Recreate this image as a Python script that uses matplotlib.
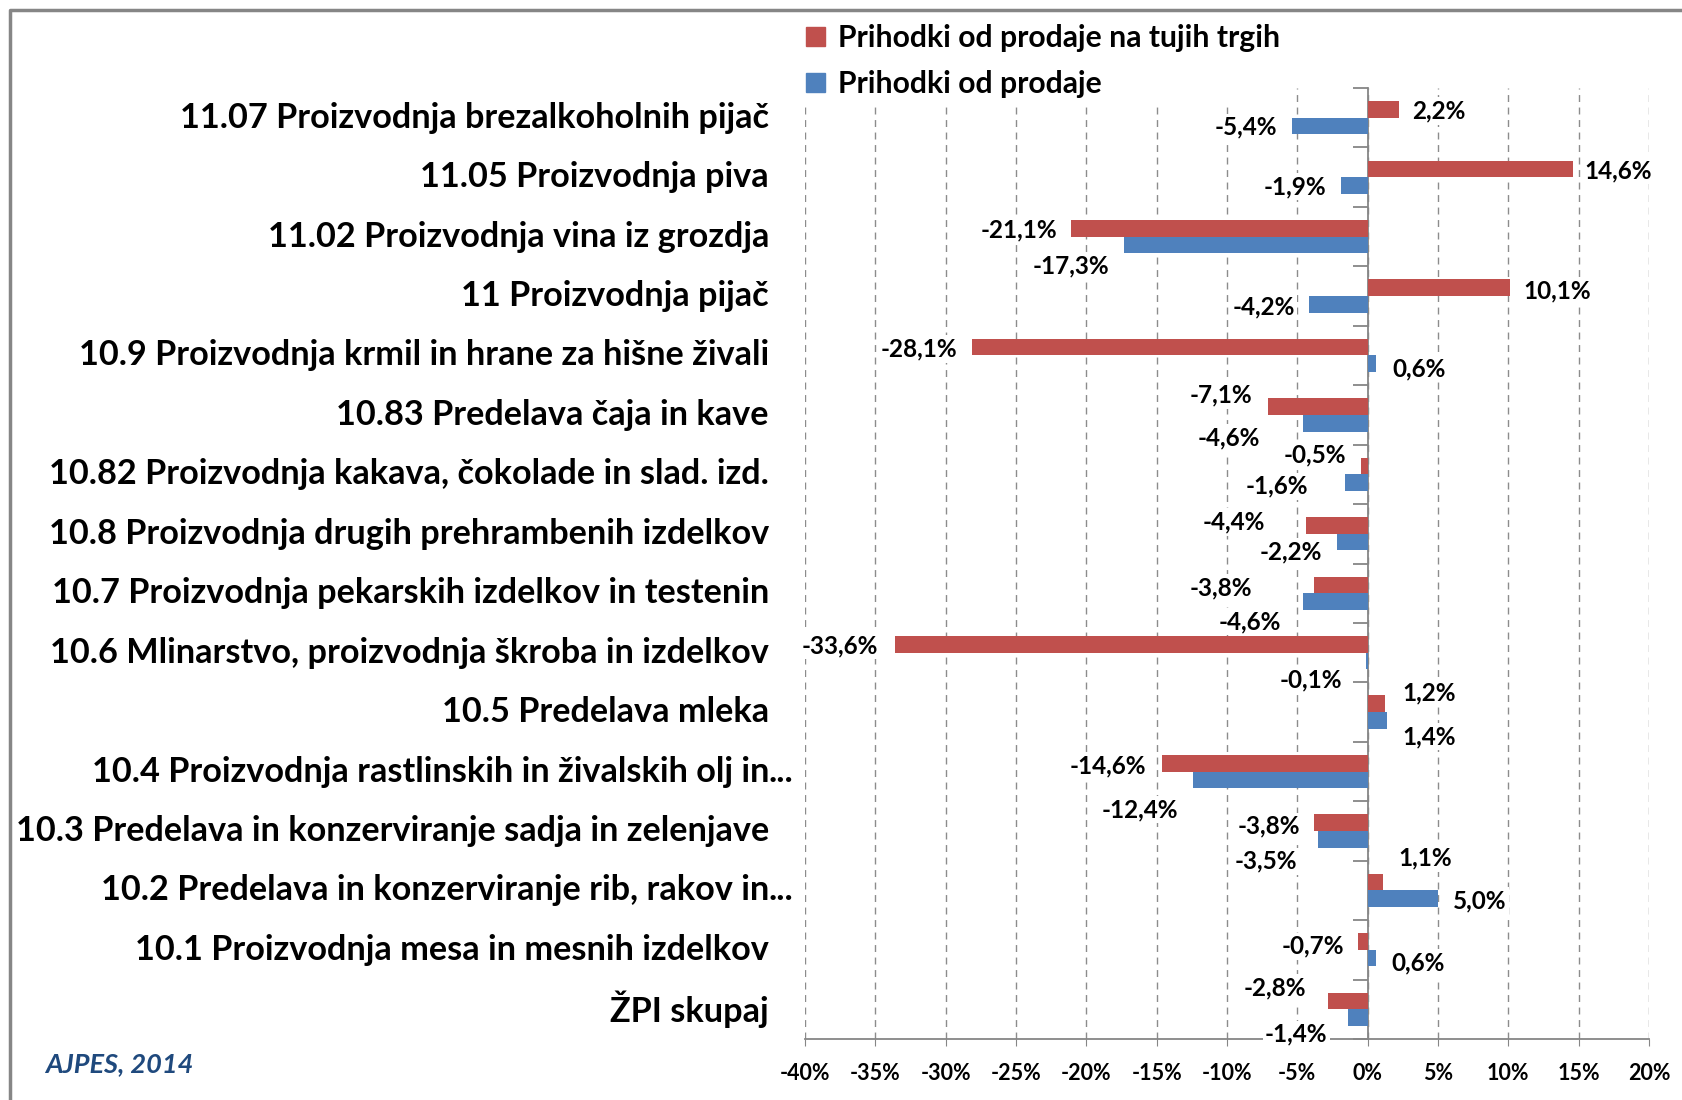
import matplotlib
matplotlib.use("Agg")
from matplotlib import pyplot as plt
from matplotlib.patches import Patch
from matplotlib.lines import Line2D
import matplotlib.transforms as mtransforms
import numpy as np

plt.rcParams['font.family'] = ['Lato', 'DejaVu Sans']
plt.rcParams['font.weight'] = 'bold'

categories = [
    "11.07 Proizvodnja brezalkoholnih pijač",
    "11.05 Proizvodnja piva",
    "11.02 Proizvodnja vina iz grozdja",
    "11 Proizvodnja pijač",
    "10.9 Proizvodnja krmil in hrane za hišne živali",
    "10.83 Predelava čaja in kave",
    "10.82 Proizvodnja kakava, čokolade in slad. izd.",
    "10.8 Proizvodnja drugih prehrambenih izdelkov",
    "10.7 Proizvodnja pekarskih izdelkov in testenin",
    "10.6 Mlinarstvo, proizvodnja škroba in izdelkov",
    "10.5 Predelava mleka",
    "10.4 Proizvodnja rastlinskih in živalskih olj in...",
    "10.3 Predelava in konzerviranje sadja in zelenjave",
    "10.2 Predelava in konzerviranje rib, rakov in...",
    "10.1 Proizvodnja mesa in mesnih izdelkov",
    "ŽPI skupaj",
]
# prihodki od prodaje na tujih trgih (rdeča)
foreign = [2.2, 14.6, -21.1, 10.1, -28.1, -7.1, -0.5, -4.4, -3.8, -33.6, 1.2, -14.6, -3.8, 1.1, -0.7, -2.8]
# prihodki od prodaje (modra)
total = [-5.4, -1.9, -17.3, -4.2, 0.6, -4.6, -1.6, -2.2, -4.6, -0.1, 1.4, -12.4, -3.5, 5.0, 0.6, -1.4]

series_names = ["Prihodki od prodaje na tujih trgih", "Prihodki od prodaje"]
xticks = list(range(-40, 25, 5))

# kje stojijo oznake (rob besedila v %, zamik v višini kategorije) - ročno kot v Excelu
lab_x_red = [3.13, 15.4, -22.07, 11.06, -29.19, -8.2, -1.56, -7.32, -8.2, -34.78, 2.46, -15.74, -4.8, 2.15, -1.68, -4.41]
lab_dy_red = [-0.11, -0.11, -0.11, -0.09, -0.11, -0.33, -0.32, -0.2, -0.09, -0.12, -0.32, -0.1, -0.08, -0.54, -0.06, -0.36]
lab_x_blue = [-6.47, -2.93, -18.37, -5.19, 1.76, -7.62, -4.22, -3.27, -6.13, -1.85, 2.46, -13.48, -5.05, 6.06, 1.68, -2.85]
lab_dy_blue = [0.16, 0.16, 0.49, 0.18, 0.22, 0.39, 0.2, 0.3, 0.48, 0.46, 0.41, 0.64, 0.51, 0.18, 0.22, 0.42]

red = "#C0504D"
blue = "#4F81BD"
gray = "#868686"

fig = plt.figure(figsize=(16.82, 11), dpi=100)
ax = fig.add_axes([805 / 1682, 1 - 1039 / 1100, (1649 - 805) / 1682, (1039 - 88) / 1100])

y = np.arange(len(categories))
h = 0.28
ax.barh(y - h / 2, foreign, height=h, color=red, zorder=3)
ax.barh(y + h / 2, total, height=h, color=blue, zorder=3)

ax.set_xlim(-40, 20)
ax.set_ylim(len(categories) - 0.5, -0.5)

ax.set_xticks(xticks)
ax.set_xticklabels(["{}%".format(t) for t in xticks], fontsize=15.5)
ax.tick_params(axis='x', length=5, color=gray, pad=12)
ax.xaxis.grid(True, linestyle=(0, (5, 4)), color="#8C8C8C", linewidth=1)
ax.set_axisbelow(True)

# os kategorij pri 0 %
ax.set_yticks(y)
ax.set_yticklabels([])
ax.set_yticks(np.arange(len(categories) + 1) - 0.5, minor=True)
ax.tick_params(axis='y', which='major', left=False, right=False, length=0)
ax.tick_params(axis='y', which='minor', left=False, right=True, direction='in', length=11, width=1.3, color=gray)
ax.spines['right'].set_position(('data', 0))
ax.spines['right'].set_color(gray)
ax.spines['right'].set_linewidth(1.3)
ax.spines['bottom'].set_color(gray)
ax.spines['bottom'].set_linewidth(1.3)
ax.spines['left'].set_visible(False)
ax.spines['top'].set_visible(False)

# imena kategorij
trans = mtransforms.blended_transform_factory(ax.transAxes, ax.transData)
xr = -36 / 844
for i, name in enumerate(categories):
    if name.endswith("..."):
        ax.text(xr, i, name[:-3], transform=trans, ha='right', va='center', fontsize=24.7)
        ax.text(xr, i, "...", transform=trans, ha='left', va='center', fontsize=24.7)
    else:
        ax.text(xr, i, name, transform=trans, ha='right', va='center', fontsize=24.7)


def fmt(v):
    return "{:.1f}%".format(v).replace('.', ',')


box = dict(facecolor='white', edgecolor='none', pad=1.5)
for i in range(len(categories)):
    ax.text(lab_x_red[i], i + lab_dy_red[i], fmt(foreign[i]), ha='left' if foreign[i] > 0 else 'right',
            va='center', fontsize=17.5, bbox=box, zorder=5)
    ax.text(lab_x_blue[i], i + lab_dy_blue[i], fmt(total[i]), ha='left' if total[i] > 0 else 'right',
            va='center', fontsize=17.5, bbox=box, zorder=5)

handles = [Patch(color=red), Patch(color=blue)]
leg = fig.legend(handles, series_names, loc='upper left', bbox_to_anchor=(800 / 1682, 1 - 18 / 1100),
                 fontsize=21.7, handlelength=0.62, handleheight=0.62, handletextpad=0.45,
                 labelspacing=0.6, frameon=True, facecolor='white', edgecolor='none', framealpha=1,
                 borderpad=0.2, borderaxespad=0)

fig.text(45 / 1682, 1 - 1064 / 1100, "AJPES, 2014", fontsize=19.5, style='italic', color="#1F497D",
         va='center', ha='left')

# okvir grafikona
fig.add_artist(Line2D([10 / 1682, 10 / 1682, 1], [0, 1 - 10 / 1100, 1 - 10 / 1100],
                      transform=fig.transFigure, color=gray, linewidth=2.5))

fig.savefig("out.png", dpi=100)
